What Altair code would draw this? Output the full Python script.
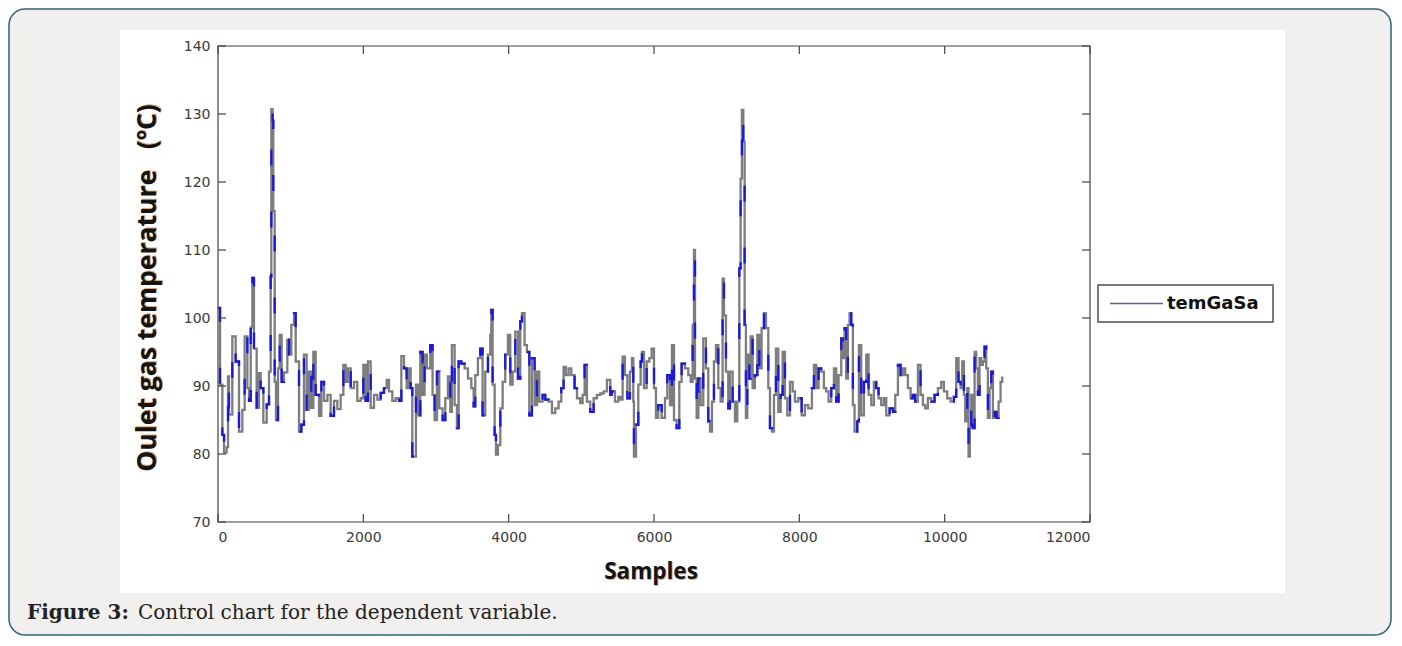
import altair as alt
import pandas as pd

# ---- data ----
samples = [0, 28, 60, 83, 119, 138, 151, 197, 243, 289, 335, 367, 404, 427, 450, 473, 495, 532,
           564, 587, 624, 670, 702, 725, 734, 752, 761, 780, 798, 826, 849, 876, 908, 954, 977,
           1009, 1046, 1069, 1115, 1147, 1183, 1220, 1252, 1284, 1312, 1344, 1390, 1422, 1459,
           1505, 1550, 1596, 1642, 1688, 1725, 1757, 1789, 1826, 1872, 1917, 1963, 2000, 2032,
           2064, 2101, 2147, 2193, 2239, 2284, 2321, 2353, 2399, 2445, 2491, 2523, 2560, 2596,
           2628, 2651, 2674,
           2724, 2752, 2784, 2816, 2843, 2875, 2921, 2953, 2981, 3013, 3045, 3091, 3128, 3164,
           3197, 3219, 3256, 3288, 3311, 3348, 3394, 3440, 3486, 3518, 3540, 3577, 3609, 3641,
           3678, 3715, 3747, 3761, 3779, 3807, 3825, 3852, 3885, 3917, 3953, 3990, 4022, 4054,
           4091, 4128, 4160, 4183, 4219, 4251, 4284, 4320, 4357, 4389, 4421, 4467, 4504, 4550,
           4596, 4641, 4687, 4724, 4756, 4788, 4825, 4862, 4907, 4940, 4985, 5018, 5045, 5077,
           5123, 5169, 5215, 5261, 5307, 5352, 5398,
           5417, 5463, 5509, 5541, 5568, 5600, 5633, 5669, 5697, 5715, 5724, 5752, 5784, 5816,
           5834, 5862, 5899, 5935, 5967, 6000, 6027, 6059, 6105, 6151, 6183, 6220, 6247, 6275,
           6311, 6348, 6380, 6426, 6472, 6504, 6532, 6550, 6564, 6587, 6610, 6642, 6678, 6715,
           6747, 6770, 6798, 6825, 6853, 6885, 6917, 6944, 6963, 6990, 7022, 7045, 7082, 7114,
           7146, 7174, 7192, 7210, 7229, 7247, 7265, 7284, 7311, 7330, 7357, 7389, 7422, 7449,
           7481, 7513, 7541, 7573, 7596, 7623, 7651, 7678, 7711, 7743, 7770, 7802, 7834, 7871,
           7908, 7940, 7986, 8032, 8077, 8123,
           8141, 8173, 8201, 8233, 8265, 8301, 8338, 8370, 8402, 8439, 8476, 8508, 8540, 8577,
           8600, 8623, 8645, 8668, 8691, 8714, 8737, 8760, 8797, 8820, 8852, 8889, 8921, 8953,
           8990, 9026, 9058, 9090, 9127, 9164, 9196, 9242, 9288, 9320, 9357, 9393, 9425, 9457,
           9494, 9531, 9563, 9595, 9632, 9668, 9701, 9733, 9769, 9815, 9861, 9907, 9953, 9990,
           10035, 10081, 10127, 10159, 10191, 10219, 10242, 10265, 10283, 10311, 10329, 10347,
           10366, 10389, 10412, 10434, 10457, 10480, 10503, 10526, 10549, 10572, 10595, 10618,
           10641, 10664, 10687, 10714, 10742, 10769, 10792]

temps = [101.5, 90.2, 82.8, 80.2, 81.0, 91.4, 85.8, 97.3, 93.6, 83.3, 86.5, 97.3, 89.7, 87.8,
         98.6, 105.9, 95.5, 86.8, 91.9, 89.7, 84.6, 87.3, 92.1, 106.1, 130.7, 129.0, 115.7,
         90.6, 85.0, 92.6, 97.5, 90.6, 92.0, 96.8, 94.6, 99.0, 100.7, 93.6, 83.3, 84.3, 94.6,
         86.5, 92.1, 86.8, 95.0, 88.7, 85.6, 90.6, 87.8, 88.7, 85.6, 87.8, 86.6, 88.7, 93.1,
         90.6, 92.6, 89.7, 90.6, 87.8, 88.2, 93.1, 87.8, 93.6, 86.8, 88.7, 88.0, 89.0, 89.7,
         90.9, 89.2, 87.8, 88.2, 87.8, 94.4, 92.6, 89.7, 92.6, 89.7, 79.6,
         90.2, 85.7, 95.0, 88.7, 94.6, 92.6, 96.0, 88.7, 85.0, 92.1, 86.7, 85.0, 88.2, 91.4,
         86.2, 96.0, 87.2, 83.8, 93.6, 93.3, 92.6, 91.1, 89.7, 87.0, 91.6, 94.1, 95.5, 85.7,
         92.1, 94.6, 97.5, 101.2, 90.2, 82.8, 79.9, 81.3, 86.7, 90.6, 94.6, 97.5, 90.2, 92.1,
         98.0, 91.1, 99.5, 100.7, 96.0, 95.0, 85.7, 94.1, 87.2, 92.1, 87.7, 88.7, 88.0, 87.7,
         86.0, 86.7, 87.7, 89.7, 92.8, 91.6, 92.6, 91.6, 89.7, 88.2, 87.5, 88.7, 93.1, 87.7,
         86.2, 88.2, 88.7, 88.9, 89.2, 90.9, 88.7,
         89.2, 87.7, 88.4, 88.0, 94.3, 91.6, 88.2, 92.1, 94.1, 87.7, 79.6, 84.3, 90.2, 93.6,
         95.0, 89.7, 93.6, 94.1, 95.5, 89.7, 85.3, 87.2, 85.3, 88.2, 91.6, 87.2, 96.0, 85.0,
         83.8, 90.6, 93.3, 92.6, 91.6, 90.6, 99.0, 110.0, 91.1, 85.3, 91.1, 87.2, 97.0, 92.6,
         84.8, 83.3, 87.7, 93.6, 96.0, 89.7, 87.7, 105.8, 100.4, 92.1, 86.7, 92.1, 87.7, 84.8,
         87.7, 107.3, 120.5, 130.6, 125.9, 99.0, 85.3, 94.6, 91.1, 97.3, 89.7, 91.6, 97.5, 92.6,
         98.5, 100.7, 98.5, 89.7, 83.8, 83.3, 88.7, 95.5, 86.2, 88.7, 95.0, 88.2, 85.7, 90.6,
         89.2, 87.7, 88.2, 85.7, 87.2, 86.7,
         86.7, 89.7, 93.1, 89.7, 92.6, 92.1, 89.7, 89.2, 87.7, 89.7, 92.6, 87.7, 91.6, 97.0,
         94.1, 98.5, 91.1, 99.0, 100.7, 99.0, 87.2, 83.3, 84.8, 96.0, 85.7, 90.6, 94.6, 88.7,
         87.2, 90.6, 89.7, 88.2, 87.2, 88.2, 85.7, 86.7, 86.2, 88.7, 93.1, 91.6, 92.6, 91.6,
         89.7, 88.2, 88.7, 87.7, 93.1, 88.7, 87.2, 86.7, 88.2, 87.7, 88.7, 89.7, 90.6, 89.2,
         88.2, 87.7, 88.4, 94.1, 90.6, 89.7, 93.6, 88.7, 84.8, 89.7, 79.6, 83.8,
         88.7, 83.8, 95.0, 92.6, 88.7, 94.1, 93.1, 93.6, 95.8, 92.6, 85.3, 89.7,
         92.1, 85.3, 86.2, 85.3, 87.7, 90.6, 91.4]

x_ticks = [0, 2000, 4000, 6000, 8000, 10000, 12000]
y_ticks = [70, 80, 90, 100, 110, 120, 130, 140]
series_name = ["temGaSa"]
x_title = ["Samples"]
y_title = ["Oulet gas temperature\u00a0\u00a0\u00a0(\u00baC)"]
caption_bold = ["Figure 3:"]
caption_rest = ["Control chart for the dependent variable."]

W, H = 872, 476

df = pd.DataFrame({"s": samples, "t": temps})
one = pd.DataFrame({"k": [0]})
xt = pd.DataFrame({"v": x_ticks})
yt = pd.DataFrame({"v": y_ticks})

xs = alt.Scale(domain=[0, 12000], nice=False, zero=False)
ys = alt.Scale(domain=[70, 140], nice=False, zero=False)

# decorations: figure frame, white image panel
frame = alt.Chart(one).mark_rect(
    fill="#f1f0ee", stroke="#2a6378", strokeWidth=1.5, cornerRadius=16
).encode(x=alt.value(-209), x2=alt.value(1173), y=alt.value(-37), y2=alt.value(589))

panel = alt.Chart(one).mark_rect(fill="white").encode(
    x=alt.value(-98), x2=alt.value(1067), y=alt.value(-16), y2=alt.value(547))

# data line (gray base with blue overlay fragments)
base_line = alt.Chart(df).mark_line(
    color="#7d7d7d", strokeWidth=2.3, interpolate="step-after", clip=True
).encode(
    x=alt.X("s:Q", scale=xs, axis=alt.Axis(values=x_ticks, ticks=False, domain=False, grid=False,
                                           labelPadding=8, title=None, format="d", zindex=1)),
    y=alt.Y("t:Q", scale=ys, axis=alt.Axis(values=y_ticks, ticks=False, domain=False, grid=False,
                                           labelPadding=8, title=None, zindex=1)),
)
blue_line = alt.Chart(df).mark_line(
    color="#1818e0", strokeWidth=2.3, interpolate="step-after", strokeDash=[16, 46], clip=True
).encode(x=alt.X("s:Q", scale=xs), y=alt.Y("t:Q", scale=ys))

# plot box and inward ticks
box = alt.Chart(one).mark_rect(fill="transparent", stroke="#444444", strokeWidth=1.2).encode(
    x=alt.value(0), x2=alt.value(W), y=alt.value(0), y2=alt.value(H))

tick_style = dict(color="#444444", strokeWidth=1.2)
yl = alt.Chart(yt).mark_rule(**tick_style).encode(
    y=alt.Y("v:Q", scale=ys), x=alt.value(0), x2=alt.value(8))
yr = alt.Chart(yt).mark_rule(**tick_style).encode(
    y=alt.Y("v:Q", scale=ys), x=alt.value(W - 8), x2=alt.value(W))
xb = alt.Chart(xt).mark_rule(**tick_style).encode(
    x=alt.X("v:Q", scale=xs), y=alt.value(H - 8), y2=alt.value(H))
xtp = alt.Chart(xt).mark_rule(**tick_style).encode(
    x=alt.X("v:Q", scale=xs), y=alt.value(0), y2=alt.value(8))

# axis titles (with a faint orange fringe as in the scan)
def title_layer(lbl, x, y, angle, color, size, dx=0, dy=0, opacity=1.0):
    return alt.Chart(pd.DataFrame({"lbl": lbl})).mark_text(
        font="Open Sans", fontWeight="bold", fontSize=size, angle=angle, align="center",
        baseline="middle", color=color, dx=dx, dy=dy, opacity=opacity
    ).encode(text="lbl:N", x=alt.value(x), y=alt.value(y))

yt_sh = title_layer(y_title, -70, 242, 270, "#d08a3a", 26.5, dx=1, dy=1, opacity=0.7)
yt_tx = title_layer(y_title, -70, 242, 270, "#141414", 26.5)
xt_sh = title_layer(x_title, 433, 526, 0, "#d08a3a", 22.5, dx=1, dy=1, opacity=0.7)
xt_tx = title_layer(x_title, 433, 526, 0, "#141414", 22.5)

# legend
leg_box = alt.Chart(one).mark_rect(fill="white", stroke="#505050", strokeWidth=1.5).encode(
    x=alt.value(880), x2=alt.value(1055), y=alt.value(239), y2=alt.value(276))
leg_line = alt.Chart(one).mark_rule(color="#5a5ab4", strokeWidth=1.5).encode(
    x=alt.value(892), x2=alt.value(945), y=alt.value(257.5))
leg_text = alt.Chart(pd.DataFrame({"lbl": series_name})).mark_text(
    font="DejaVu Sans", fontWeight="bold", fontSize=18, align="left", baseline="middle",
    color="#111111"
).encode(text="lbl:N", x=alt.value(949), y=alt.value(258))

# caption (below the white image panel)
cap1 = alt.Chart(pd.DataFrame({"lbl": caption_bold})).mark_text(
    font="DejaVu Serif", fontWeight="bold", fontSize=20, align="left", baseline="middle",
    color="#222222"
).encode(text="lbl:N", x=alt.value(-191), y=alt.value(567))
cap2 = alt.Chart(pd.DataFrame({"lbl": caption_rest})).mark_text(
    font="DejaVu Serif", fontSize=20, align="left", baseline="middle", color="#222222"
).encode(text="lbl:N", x=alt.value(-80), y=alt.value(567))

chart = alt.layer(
    frame, panel, base_line, blue_line, box, yl, yr, xb, xtp,
    yt_sh, yt_tx, xt_sh, xt_tx, leg_box, leg_line, leg_text, cap1, cap2
).properties(
    width=W, height=H,
    padding={"left": 210, "top": 38, "right": 304, "bottom": 115},
    autosize=alt.AutoSizeParams(type="none"),
    background="white",
).configure_view(
    strokeWidth=0
).configure_axis(
    labelFont="DejaVu Sans", labelFontSize=14, labelColor="#3a3a3a"
)

chart.save("out.html", embed_options={"renderer": "svg", "actions": False})
